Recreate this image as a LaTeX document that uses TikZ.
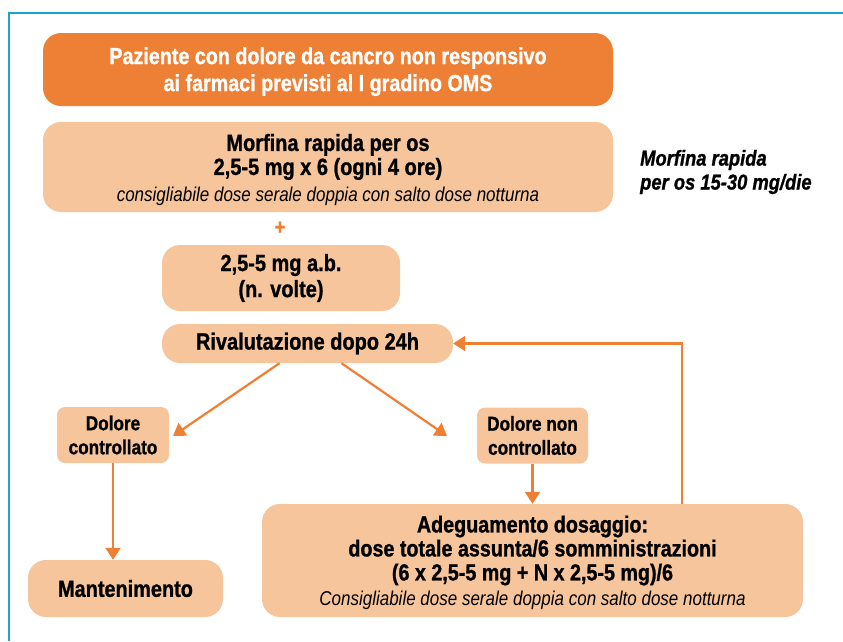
\documentclass[tikz,border=0pt]{standalone}
\usepackage{fontspec}
\setmainfont{Liberation Sans}[FakeStretch=0.85, BoldFeatures={FakeBold=1}, BoldItalicFeatures={FakeBold=1}]
\usetikzlibrary{arrows.meta}
\definecolor{dkor}{HTML}{EE8035}
\definecolor{ltor}{HTML}{F7C59B}
\definecolor{arrcol}{HTML}{EE7F33}
\definecolor{bord}{HTML}{1CA3CC}
\newcommand\fsz[2]{\fontsize{#1}{#2}\selectfont}
\begin{document}
\begin{tikzpicture}[x=1pt,y=-1pt,
  box/.style={fill=ltor, rounded corners=18pt, align=center, inner sep=0pt, text=black},
  smallbox/.style={box, rounded corners=8pt},
  conn/.style={draw=arrcol, line width=2.2pt, -{Triangle[length=12pt,width=15pt]}}]
\useasboundingbox (0,0) rectangle (843,641);
\draw[bord, line width=1.5pt] (9,641) -- (9,13) -- (843,13);

\node[box, fill=dkor, text=white, minimum width=570pt, minimum height=73pt,
  font=\bfseries\fsz{23.2}{27}] (top) at (328,69.5)
  {\rule{0pt}{21pt}Paziente con dolore da cancro non responsivo\\ai farmaci previsti al I gradino OMS};

\node[box, minimum width=570pt, minimum height=90pt, font=\fsz{23.5}{24}] (morf) at (328,167)
  {\rule{0pt}{23pt}\bfseries Morfina rapida per os\\\bfseries 2,5-5 mg x 6 (ogni 4 ore)\\[3pt]
   \itshape\fsz{20}{24}consigliabile dose serale doppia con salto dose notturna};

\node[anchor=west, align=left, inner sep=0pt, font=\bfseries\itshape\fsz{21.6}{24}] (side) at (640,172)
  {Morfina rapida\\per os 15-30 mg/die};

\node[text=dkor, inner sep=0pt, font=\bfseries\fsz{22}{24}] (plus) at (280,228) {+};

\node[box, minimum width=238pt, minimum height=66pt, font=\bfseries\fsz{23.5}{26}] (ab) at (281,278)
  {2,5-5 mg a.b.\\(n. volte)};

\node[box, minimum width=291pt, minimum height=39pt, font=\bfseries\fsz{23.5}{26}] (rival) at (307.5,343.5)
  {Rivalutazione dopo 24h};

\node[smallbox, minimum width=112pt, minimum height=56pt, font=\bfseries\fsz{20.2}{24}] (dc) at (113,435)
  {Dolore\\controllato};

\node[smallbox, minimum width=111pt, minimum height=56pt, font=\bfseries\fsz{20.2}{24}] (dnc) at (532.5,435.5)
  {Dolore non\\controllato};

\node[box, minimum width=195pt, minimum height=57pt, font=\bfseries\fsz{23.4}{26}] (mant) at (125.5,588.5)
  {Mantenimento};

\node[box, minimum width=541pt, minimum height=113pt, font=\fsz{23.2}{24}] (adeg) at (532.5,560.5)
  {\rule{0pt}{21pt}\bfseries Adeguamento dosaggio:\\\bfseries dose totale assunta/6 somministrazioni\\
   \bfseries (6 x 2,5-5 mg + N x 2,5-5 mg)/6\\[1pt]
   \itshape\fsz{20}{24}Consigliabile dose serale doppia con salto dose notturna};

\coordinate (tipl) at (173,436);
\coordinate (tipr) at (447,436);
\draw[conn] ([xshift=-28pt]rival.south) -- (tipl);
\draw[conn] ([xshift=34pt]rival.south) -- (tipr);
\draw[conn] (dc.south) -- (dc.south |- mant.north);
\draw[conn] (dnc.south) -- (dnc.south |- adeg.north);
\draw[conn] (adeg.north -| 682,0) |- (rival.east);
\end{tikzpicture}
\end{document}
